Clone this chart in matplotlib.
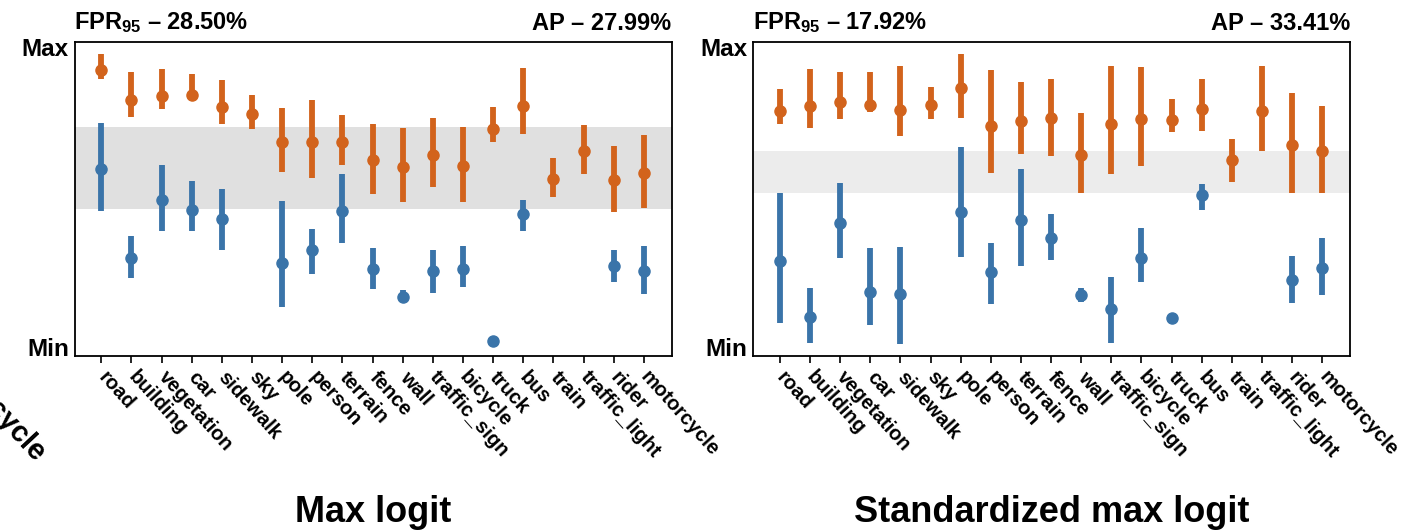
import numpy as np
import matplotlib
matplotlib.use("Agg")
import matplotlib.pyplot as plt

plt.rcParams['font.family'] = ['Liberation Sans', 'DejaVu Sans']
plt.rcParams['font.weight'] = 'bold'
plt.rcParams['mathtext.fontset'] = 'custom'
plt.rcParams['mathtext.rm'] = 'Liberation Sans:bold'
plt.rcParams['mathtext.it'] = 'Liberation Sans:bold'

classes = ['road', 'building', 'vegetation', 'car', 'sidewalk', 'sky', 'pole',
           'person', 'terrain', 'fence', 'wall', 'traffic_sign', 'bicycle',
           'truck', 'bus', 'train', 'traffic_light', 'rider', 'motorcycle']
nan = np.nan

# scores scaled so that Min = 0 and Max = 1
# --- Max logit ---
ml_in_mid = [0.924, 0.824, 0.837, 0.839, 0.798, 0.776, 0.682, 0.682, 0.682, 0.623,
             0.599, 0.638, 0.601, 0.726, 0.804, 0.558, 0.652, 0.555, 0.579]
ml_in_lo = [0.893, 0.765, 0.791, 0.824, 0.741, 0.726, 0.583, 0.564, 0.605, 0.508,
            0.483, 0.533, 0.483, 0.682, 0.710, 0.500, 0.577, 0.450, 0.461]
ml_in_hi = [0.976, 0.917, 0.926, 0.909, 0.889, 0.839, 0.796, 0.821, 0.771, 0.743,
            0.730, 0.763, 0.732, 0.798, 0.928, 0.630, 0.740, 0.668, 0.706]
ml_out_mid = [0.594, 0.295, 0.488, 0.457, 0.427, nan, 0.278, 0.322, 0.453, 0.258,
              0.165, 0.253, 0.258, 0.018, 0.442, nan, nan, 0.269, 0.252]
ml_out_lo = [0.453, 0.230, 0.386, 0.385, 0.324, nan, 0.131, 0.243, 0.347, 0.192,
             0.150, 0.178, 0.198, 0.018, 0.386, nan, nan, 0.217, 0.176]
ml_out_hi = [0.745, 0.369, 0.607, 0.551, 0.527, nan, 0.486, 0.394, 0.575, 0.328,
             0.189, 0.322, 0.337, 0.018, 0.488, nan, nan, 0.322, 0.337]
ml_band = (0.458, 0.734)

# --- Standardized max logit ---
sml_in_mid = [0.787, 0.804, 0.817, 0.806, 0.789, 0.806, 0.861, 0.735, 0.751, 0.762,
              0.640, 0.743, 0.760, 0.757, 0.791, 0.623, 0.785, 0.671, 0.652]
sml_in_lo = [0.743, 0.729, 0.760, 0.782, 0.701, 0.760, 0.763, 0.579, 0.643, 0.636,
             0.514, 0.577, 0.603, 0.715, 0.718, 0.549, 0.652, 0.511, 0.514]
sml_in_hi = [0.859, 0.926, 0.917, 0.915, 0.937, 0.867, 0.976, 0.922, 0.881, 0.892,
             0.779, 0.937, 0.931, 0.826, 0.892, 0.693, 0.937, 0.845, 0.804]
sml_out_mid = [0.286, 0.099, 0.411, 0.182, 0.175, nan, 0.450, 0.250, 0.422, 0.361,
               0.173, 0.125, 0.295, 0.095, 0.505, nan, nan, 0.223, 0.261]
sml_out_lo = [0.079, 0.012, 0.295, 0.071, 0.010, nan, 0.300, 0.143, 0.270, 0.289,
              0.150, 0.012, 0.217, 0.095, 0.457, nan, nan, 0.147, 0.173]
sml_out_hi = [0.514, 0.195, 0.546, 0.330, 0.333, nan, 0.665, 0.347, 0.594, 0.441,
              0.197, 0.234, 0.396, 0.095, 0.543, nan, nan, 0.302, 0.361]
sml_band = (0.513, 0.654)

panels = [
    dict(title='Max logit', fpr='28.50', ap='27.99', band=ml_band, band_color='#e0e0e0',
         in_mid=ml_in_mid, in_lo=ml_in_lo, in_hi=ml_in_hi,
         out_mid=ml_out_mid, out_lo=ml_out_lo, out_hi=ml_out_hi),
    dict(title='Standardized max logit', fpr='17.92', ap='33.41', band=sml_band, band_color='#ececec',
         in_mid=sml_in_mid, in_lo=sml_in_lo, in_hi=sml_in_hi,
         out_mid=sml_out_mid, out_lo=sml_out_lo, out_hi=sml_out_hi),
]

orange = '#d2631c'
blue = '#3a74a9'

fig = plt.figure(figsize=(14.07, 5.31), dpi=100)
lefts = [74.5 / 1407, 753 / 1407]
width = 597 / 1407
bottom = 1 - 356 / 531
height = (356 - 41.7) / 531

x = np.arange(len(classes))
for left, p in zip(lefts, panels):
    ax = fig.add_axes([left, bottom, width, height])
    ax.axhspan(p['band'][0], p['band'][1], color=p['band_color'], zorder=0, lw=0)
    for mid, lo, hi, c in [(p['out_mid'], p['out_lo'], p['out_hi'], blue),
                           (p['in_mid'], p['in_lo'], p['in_hi'], orange)]:
        ax.vlines(x, lo, hi, color=c, lw=4.2, zorder=2)
        ax.plot(x, mid, 'o', color=c, ms=8, zorder=3)
    ax.set_xlim(-0.89, 18.92)
    ax.set_ylim(-0.031, 1.017)
    ax.set_yticks([0, 1])
    ax.set_yticklabels(['Min', 'Max'], fontsize=17.5, fontweight='bold')
    ax.tick_params(axis='y', length=0, pad=4)
    ax.set_xticks(x)
    ax.set_xticklabels(classes, fontsize=14.5, fontweight='bold', rotation=-48,
                       ha='left', va='center', rotation_mode='anchor')
    ax.tick_params(axis='x', length=5, width=1.2, pad=8)
    for s in ax.spines.values():
        s.set_linewidth(1.3)
    ax.text(0.0, 1.022, 'FPR$_{95}$ \u2013 ' + p['fpr'] + '%', transform=ax.transAxes,
            fontsize=17, fontweight='bold', ha='left', va='bottom')
    ax.text(1.0, 1.022, 'AP \u2013 ' + p['ap'] + '%', transform=ax.transAxes,
            fontsize=17, fontweight='bold', ha='right', va='bottom')
    fig.text(left + width / 2, 1 - 513 / 531, p['title'], fontsize=26,
             fontweight='bold', ha='center', va='center')

# tail of a label from a panel cut off at the left edge
fig.text(40 / 1407, 1 - 458 / 531, classes[-1], fontsize=21, fontweight='bold',
         rotation=-47, ha='right', va='center', rotation_mode='anchor')

fig.savefig('out.png', dpi=100)
